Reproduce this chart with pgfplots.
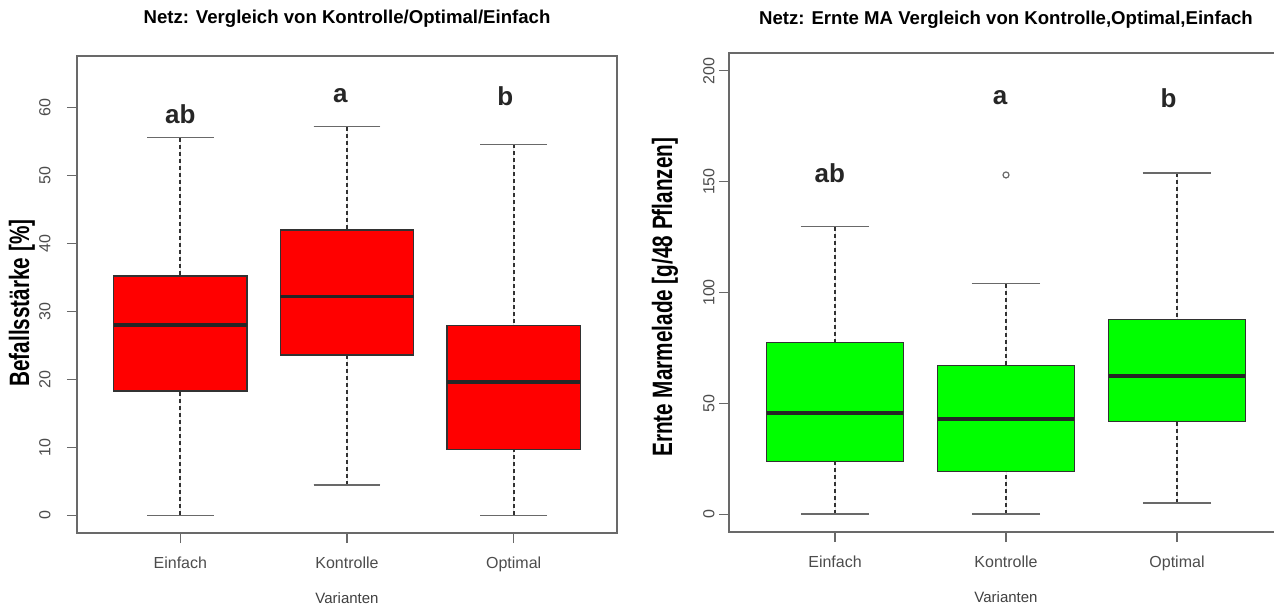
\documentclass[border=0pt]{standalone}
\usepackage{pgfplots}
\pgfplotsset{compat=1.18}
\usepgfplotslibrary{statistics}
\usepackage{fontspec}
\setmainfont{Liberation Sans}
\newfontfamily\labfont[FakeStretch=0.74]{Liberation Sans}

\definecolor{rred}{RGB}{255,0,0}
\definecolor{rgreen}{RGB}{0,255,0}
\definecolor{framegray}{RGB}{105,105,105}
\definecolor{boxedge}{RGB}{50,50,50}

\tikzset{letter/.style={font=\fontsize{13}{15}\selectfont\bfseries, text=black!85}}

\pgfplotsset{
  rstyle/.style={
    scale only axis,
    xmin=0.38, xmax=3.62,
    xtick={1,2,3}, xticklabels={Einfach,Kontrolle,Optimal},
    tick pos=left, tick align=outside,
    major tick length=5pt,
    axis line style={framegray, line width=0.75pt},
    every tick/.style={framegray, line width=0.75pt},
    /pgf/number format/assume math mode=true,
    ticklabel style={font=\fontsize{8}{9}\selectfont, text=black!70},
    xticklabel style={anchor=north, inner sep=0pt, yshift=-7pt},
    every axis x label/.style={at={(axis description cs:0.5,0)}, anchor=center, yshift=-32.5pt, font=\fontsize{7.5}{9}\selectfont, text=black!75},
    title style={font=\fontsize{9.3}{11}\selectfont\bfseries, anchor=center, at={(axis description cs:0.5,1)}},
    boxplot/draw direction=y,
    boxplot/draw/lower whisker/.code={
      \draw[dash pattern=on 2pt off 1.5pt, boxedge, line width=0.9pt] (boxplot box cs:\pgfplotsboxplotvalue{lower whisker},0.5) -- (boxplot box cs:\pgfplotsboxplotvalue{lower quartile},0.5);
      \draw[framegray, line width=0.8pt] (boxplot whisker cs:\pgfplotsboxplotvalue{lower whisker},0) -- (boxplot whisker cs:\pgfplotsboxplotvalue{lower whisker},1);
    },
    boxplot/draw/upper whisker/.code={
      \draw[dash pattern=on 2pt off 1.5pt, boxedge, line width=0.9pt] (boxplot box cs:\pgfplotsboxplotvalue{upper whisker},0.5) -- (boxplot box cs:\pgfplotsboxplotvalue{upper quartile},0.5);
      \draw[framegray, line width=0.8pt] (boxplot whisker cs:\pgfplotsboxplotvalue{upper whisker},0) -- (boxplot whisker cs:\pgfplotsboxplotvalue{upper whisker},1);
    },
    boxplot/every median/.style={line width=1.9pt, draw=black!85},
    boxplot/box extend=0.8,
    boxplot/whisker extend=0.4,
  },
}

\begin{document}
\begin{tikzpicture}
\path[use as bounding box] (0,0) rectangle (637pt,302.5pt);

% ---------- left panel ----------
\begin{axis}[rstyle,
  at={(38.5pt,36pt)}, anchor=south west,
  width=270pt, height=238.5pt,
  ymin=-2.6, ymax=67.6, ytick={0,10,20,30,40,50,60},
  yticklabel style={rotate=90, anchor=south, inner sep=0pt, yshift=8pt},
  title={Netz: Vergleich von Kontrolle/Optimal/Einfach},
  title style={yshift=12.5pt},
  xlabel={Varianten},
  ylabel={Befallsstärke [\%]},
  every axis y label/.style={at={(axis description cs:-0.102,0.482)}, rotate=90, anchor=center, font=\labfont\fontsize{14}{16}\selectfont\bfseries},
]
\addplot[draw=boxedge, fill=rred, line width=0.7pt, boxplot prepared={draw position=1,
  lower whisker=0, lower quartile=18.3, median=28.0, upper quartile=35.2, upper whisker=55.6}] coordinates {};
\addplot[draw=boxedge, fill=rred, line width=0.7pt, boxplot prepared={draw position=2,
  lower whisker=4.5, lower quartile=23.6, median=32.2, upper quartile=42.0, upper whisker=57.2}] coordinates {};
\addplot[draw=boxedge, fill=rred, line width=0.7pt, boxplot prepared={draw position=3,
  lower whisker=0, lower quartile=9.7, median=19.6, upper quartile=27.9, upper whisker=54.6}] coordinates {};
\node[letter] at (axis cs:1.0,59.0) {ab};
\node[letter] at (axis cs:1.96,61.7) {a};
\node[letter] at (axis cs:2.95,61.7) {b};
\end{axis}

% ---------- right panel ----------
\begin{axis}[rstyle,
  at={(364.5pt,36.5pt)}, anchor=south west,
  width=277pt, height=239.5pt,
  ymin=-8, ymax=208, ytick={0,50,100,150,200},
  yticklabel style={rotate=90, anchor=south, inner sep=0pt, yshift=2pt},
  title={Netz: Ernte MA Vergleich von Kontrolle,Optimal,Einfach},
  title style={yshift=10.5pt},
  xlabel={Varianten},
  ylabel={Ernte Marmelade [g/48 Pflanzen]},
  every axis y label/.style={at={(axis description cs:-0.1155,0.49)}, rotate=90, anchor=center, font=\labfont\fontsize{14}{16}\selectfont\bfseries},
]
\addplot[draw=boxedge, fill=rgreen, line width=0.7pt, boxplot prepared={draw position=1,
  lower whisker=0, lower quartile=23.9, median=45.5, upper quartile=77.5, upper whisker=129.7}] coordinates {};
\addplot[draw=boxedge, fill=rgreen, line width=0.7pt, mark=o, mark size=1.5pt, mark options={draw=framegray, fill=none, line width=0.6pt}, boxplot prepared={draw position=2,
  lower whisker=0, lower quartile=19.4, median=42.8, upper quartile=67.1, upper whisker=104.0}] coordinates {(0,153)};
\addplot[draw=boxedge, fill=rgreen, line width=0.7pt, boxplot prepared={draw position=3,
  lower whisker=5, lower quartile=41.9, median=62.2, upper quartile=87.8, upper whisker=154.0}] coordinates {};
\node[letter] at (axis cs:0.97,153.6) {ab};
\node[letter] at (axis cs:1.965,187.8) {a};
\node[letter] at (axis cs:2.95,187.8) {b};
\end{axis}
\end{tikzpicture}
\end{document}
